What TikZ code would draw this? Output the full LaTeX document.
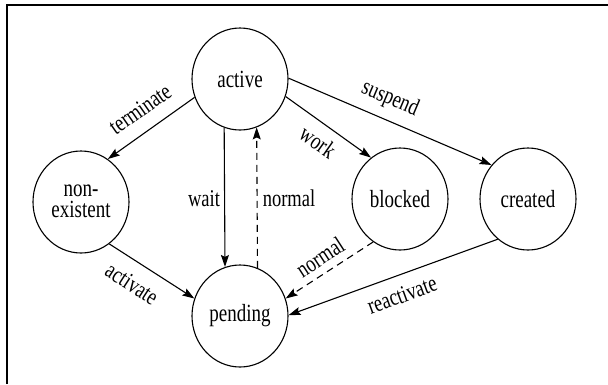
\documentclass[tikz,border=0pt]{standalone}
\usepackage{fontspec}
\usepackage{graphicx}
\setmainfont{Liberation Serif}
\usetikzlibrary{arrows.meta,shapes.geometric}
\newcommand{\talltxt}[1]{\scalebox{1}[1.3]{#1}}
\tikzset{
  state/.style={draw, ellipse, minimum width=96pt, minimum height=102pt, inner sep=0pt, line width=1.1pt, font=\fontsize{19}{20}\selectfont},
  trans/.style={line width=1.1pt, -{Stealth[length=12pt,width=8pt,inset=2pt]}},
  dtrans/.style={trans, dash pattern=on 7pt off 5pt},
  lbl/.style={font=\fontsize{18.5}{19}\selectfont, inner sep=1pt}
}
\begin{document}
\begin{tikzpicture}[x=1pt,y=-1pt]
\useasboundingbox (0,0) rectangle (608,384);
\draw[line width=2pt] (7,384) -- (7,5) -- (608,5);

\node[state] (active) at (240,79) {\talltxt{active}};
\node[state] (nonex) at (81,202) {\talltxt{\begin{tabular}{@{}c@{}}non-\\[-4pt]existent\end{tabular}}};
\node[state] (blocked) at (400,199) {\talltxt{blocked}};
\node[state] (created) at (528,199) {\talltxt{created}};
\node[state] (pending) at (240,316) {\talltxt{pending}};

\draw[trans] (active.202) -- (nonex.58);
\draw[trans] (active.339) -- (blocked.125);
\draw[trans] (active.1) -- (created.137);
\draw[trans] (active.252.8) -- (pending.107.2);
\draw[dtrans] (pending.70.4) -- (active.289.6);
\draw[trans] (nonex.304) -- (pending.159);
\draw[dtrans] (blocked.238.5) -- (pending.21);
\draw[trans] (created.233) -- (pending.1);

\node[lbl, rotate=35] (l1) at (140,109) {\talltxt{terminate}};
\node[lbl, rotate=-35] (l2) at (318,142) {\talltxt{work}};
\node[lbl, rotate=-23] (l3) at (390,99) {\talltxt{suspend}};
\node[lbl] (l4) at (204,199) {\talltxt{wait}};
\node[lbl] (l5) at (289,198) {\talltxt{normal}};
\node[lbl, rotate=-33] (l6) at (132,284) {\talltxt{activate}};
\node[lbl, rotate=33] (l7) at (320,257) {\talltxt{normal}};
\node[lbl, rotate=20] (l8) at (402,295) {\talltxt{reactivate}};
\end{tikzpicture}
\end{document}
